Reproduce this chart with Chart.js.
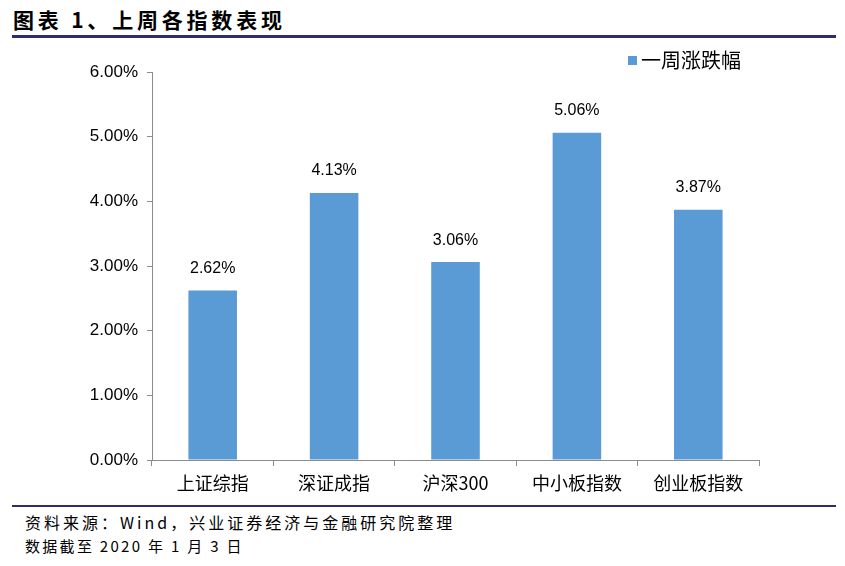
<!DOCTYPE html>
<html><head><meta charset="utf-8">
<script src="https://cdn.jsdelivr.net/npm/chart.js@4/dist/chart.umd.min.js"></script>
<style>
html,body{margin:0;padding:0;background:#fff;}
#wrap{position:relative;width:845px;height:566px;overflow:hidden;}
#title{position:absolute;left:13px;top:4px;font-family:"Noto Sans CJK SC";font-weight:bold;font-size:21px;letter-spacing:3.8px;color:#000;white-space:nowrap;}
.rule{position:absolute;left:12px;width:824px;height:3px;background:#2e2e6b;}
.foot{position:absolute;left:25px;font-family:"Noto Sans CJK SC";font-size:15px;letter-spacing:2.3px;color:#000;white-space:nowrap;}
canvas{position:absolute;left:0;top:0;}
</style></head>
<body><div id="wrap">
<div id="title">图表 1、上周各指数表现</div>
<div class="rule" style="top:35px"></div>
<div class="rule" style="top:505px;height:2px"></div>
<div class="foot" style="top:510px;font-size:16px;letter-spacing:3px">资料来源：Wind，兴业证券经济与金融研究院整理</div>
<div class="foot" style="top:535px">数据截至 2020 年 1 月 3 日</div>
<canvas id="c" width="845" height="500"></canvas>
</div>
<script>
const categories = ["上证综指", "深证成指", "沪深300", "中小板指数", "创业板指数"];
const seriesName = "一周涨跌幅";
const values = [2.62, 4.13, 3.06, 5.06, 3.87];
const yTicks = [0, 1, 2, 3, 4, 5, 6];
const barColor = "#5b9bd5";

const labelPlugin = {
  id: 'labels',
  afterDatasetsDraw(chart) {
    const ctx = chart.ctx;
    const meta = chart.getDatasetMeta(0);
    ctx.save();
    ctx.fillStyle = '#000';
    ctx.font = '16px "Liberation Sans", Arial, sans-serif';
    ctx.textAlign = 'center';
    ctx.textBaseline = 'middle';
    meta.data.forEach((bar, i) => {
      ctx.fillText(values[i].toFixed(2) + '%', bar.x, bar.y - 22);
    });
    // legend
    const ds = chart.data.datasets[0];
    ctx.fillStyle = ds.backgroundColor;
    ctx.fillRect(628, 56, 9, 9);
    ctx.fillStyle = '#000';
    ctx.font = '20px "Noto Sans CJK SC"';
    ctx.textAlign = 'left';
    ctx.fillText(ds.label, 641, 60);
    ctx.restore();
  }
};

new Chart(document.getElementById('c'), {
  type: 'bar',
  data: {
    labels: categories,
    datasets: [{ label: seriesName, data: values, backgroundColor: barColor,
      barPercentage: 0.8, categoryPercentage: 0.5 }]
  },
  options: {
    responsive: false,
    animation: false,
    layout: { padding: { left: 0, top: 72, right: 86, bottom: 0 } },
    plugins: { legend: { display: false }, tooltip: { enabled: false } },
    scales: {
      x: {
        grid: { display: true, drawOnChartArea: false, offset: true, tickLength: 6, color: '#8c8c8c' },
        border: { color: '#8c8c8c' },
        ticks: { color: '#000', font: { family: 'Noto Sans CJK SC', size: 18 }, padding: 6 },
        afterFit(s) { s.height = 40; }
      },
      y: {
        min: 0, max: 6,
        afterBuildTicks(s) { s.ticks = yTicks.map(v => ({ value: v })); },
        grid: { display: true, drawOnChartArea: false, tickLength: 5, color: '#8c8c8c' },
        border: { color: '#8c8c8c' },
        ticks: { color: '#000', font: { family: 'Liberation Sans', size: 17 }, padding: 9,
          callback: v => v.toFixed(2) + '%' },
        afterFit(s) { s.width = 152; }
      }
    }
  },
  plugins: [labelPlugin]
});
</script>
</body></html>
